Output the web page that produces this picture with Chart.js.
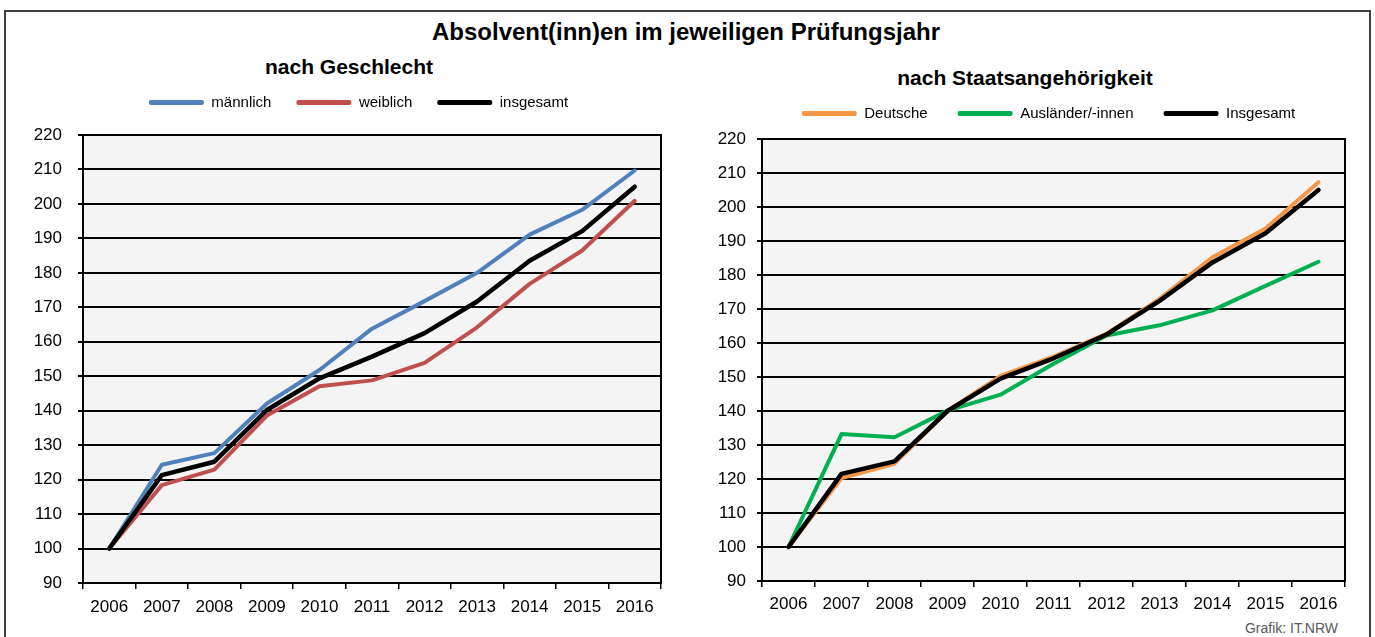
<!DOCTYPE html>
<html lang="de">
<head>
<meta charset="utf-8">
<title>Absolvent(inn)en im jeweiligen Prüfungsjahr</title>
<script src="https://cdn.jsdelivr.net/npm/chart.js@4.4.1/dist/chart.umd.min.js"></script>
<style>
    body {
        margin: 0;
        width: 1375px;
        height: 637px;
        position: relative;
        overflow: hidden;
        background: #fff;
        font-family: "Liberation Sans", Arial, sans-serif;
        color: #000;
    }
    .rahmen {
        position: absolute;
        left: 4px;
        top: 10px;
        width: 1363px;
        height: 640px;
        border: 2px solid #404040;
    }
    .txt {
        position: absolute;
        white-space: nowrap;
        transform: translate(-50%, -50%);
    }
    .box {
        position: absolute;
    }
</style>
</head>
<body>
<div class="rahmen"></div>

<div class="txt" style="left:686px; top:32px; font-size:24px; font-weight:bold;">Absolvent(inn)en im jeweiligen Prüfungsjahr</div>
<div class="txt" style="left:349px; top:67px; font-size:21px; font-weight:bold;">nach Geschlecht</div>
<div class="txt" style="left:1025px; top:78px; font-size:21px; font-weight:bold;">nach Staatsangehörigkeit</div>
<div style="position:absolute; right:37px; top:620px; font-size:14px; color:#595959;">Grafik: IT.NRW</div>

<div class="box" style="left:0px; top:70px; width:680px; height:560px;">
    <canvas id="chart-geschlecht"></canvas>
</div>
<div class="box" style="left:690px; top:76px; width:680px; height:554px;">
    <canvas id="chart-staat"></canvas>
</div>

<script>
// Prüfungsjahre (x-Achse)
const jahre = ['2006', '2007', '2008', '2009', '2010', '2011', '2012', '2013', '2014', '2015', '2016'];

// Index 2006 = 100, nach Geschlecht
const maennlich = [100, 124.3, 127.7, 142.1, 151.8, 163.8, 171.8, 180, 191.1, 198.3, 209.7];
const weiblich  = [100, 118.4, 122.9, 138.6, 147.1, 148.8, 153.9, 164.2, 176.8, 186.5, 200.9];
const insgesamt = [100, 121.3, 125.2, 140.2, 149.4, 155.7, 162.5, 171.7, 183.5, 192.1, 205];

// Index 2006 = 100, nach Staatsangehörigkeit
const deutsche   = [100, 120.3, 124.5, 140, 150.3, 156, 162.7, 173, 185.2, 193.7, 207.3];
const auslaender = [100, 133.2, 132.3, 140.1, 144.8, 153.9, 162.2, 165.2, 169.6, 176.8, 183.9];
const insgesamtStaat = [100, 121.5, 125.2, 140, 149.5, 155.5, 162.5, 172.4, 183.7, 192.3, 205];

// y-Achse
const yMin = 90;
const yMax = 220;
const yStep = 10;

const schrift = '"Liberation Sans", Arial, sans-serif';

// Grauer Hintergrund und schwarzer Rahmen um die Zeichenfläche
const plotRahmen = {
    id: 'plotRahmen',
    afterLayout(chart, args, opts) {
        // Legende seitlich verschieben (wie im Original)
        const shift = chart.options.legendShift || 0;
        chart.legend.left += shift;
        chart.legend.right += shift;
    },
    beforeDraw(chart) {
        const {ctx, chartArea: a} = chart;
        ctx.save();
        ctx.fillStyle = '#f4f4f4';
        ctx.fillRect(a.left, a.top, a.width, a.height);
        ctx.restore();
    },
    beforeDatasetsDraw(chart) {
        const {ctx, chartArea: a} = chart;
        ctx.save();
        ctx.strokeStyle = '#000';
        ctx.lineWidth = 2;
        ctx.strokeRect(a.left, a.top, a.width, a.height);
        ctx.restore();
    }
};

function linie(label, werte, farbe, breite, reihenfolge) {
    return {
        label: label,
        data: werte,
        borderColor: farbe,
        backgroundColor: farbe,
        borderWidth: breite,
        pointRadius: 0,
        tension: 0,
        borderJoinStyle: 'round',
        borderCapStyle: 'round',
        order: reihenfolge
    };
}

// Zeichnet ein Liniendiagramm; m = Maße (Abstände in px)
function zeichneDiagramm(id, datasets, m) {
    const canvas = document.getElementById(id);

    new Chart(canvas, {
        type: 'line',
        data: {
            labels: jahre,
            datasets: datasets
        },
        options: {
            responsive: true,
            maintainAspectRatio: false,
            animation: false,
            legendShift: m.legShift,
            layout: {
                padding: {left: 0, right: m.padRight, top: 0, bottom: 0}
            },
            scales: {
                x: {
                    offset: true,
                    grid: {
                        offset: true,
                        drawOnChartArea: false,
                        drawTicks: true,
                        tickLength: 6,
                        color: '#000',
                        lineWidth: 1.5
                    },
                    border: {display: true, color: '#000', width: 2},
                    ticks: {
                        color: '#000',
                        font: {family: schrift, size: 17},
                        padding: m.xPad,
                        autoSkip: false,
                        maxRotation: 0
                    },
                    afterFit(scale) { scale.height = m.xHeight; }
                },
                y: {
                    min: yMin,
                    max: yMax,
                    grid: {
                        color: '#000',
                        lineWidth: 2,
                        tickLength: 5
                    },
                    border: {display: true, color: '#000', width: 2},
                    ticks: {
                        stepSize: yStep,
                        color: '#000',
                        font: {family: schrift, size: 17},
                        padding: m.yPad
                    },
                    afterFit(scale) { scale.width = m.yWidth; }
                }
            },
            plugins: {
                // Legende ganz oben
                legend: {
                    position: 'top',
                    weight: 2500,
                    labels: {
                        boxWidth: 55,
                        boxHeight: 5,
                        padding: m.legPad,
                        color: '#000',
                        font: {family: schrift, size: 15},
                        sort: (a, b) => a.datasetIndex - b.datasetIndex,
                        generateLabels(chart) {
                            return Chart.defaults.plugins.legend.labels.generateLabels(chart).map(l => {
                                l.lineWidth = 0;
                                l.fillStyle = l.strokeStyle;
                                l.borderRadius = 2;
                                return l;
                            });
                        }
                    }
                },
                // leerer Titel als Abstand zwischen Legende und Diagramm
                title: {
                    display: true,
                    text: ' ',
                    font: {size: 1, lineHeight: 1},
                    padding: {top: m.spacer - 1, bottom: 0}
                },
                tooltip: {enabled: false}
            }
        },
        plugins: [plotRahmen]
    });
}

zeichneDiagramm('chart-geschlecht', [
    linie('männlich', maennlich, '#4f81bd', 4, 2),
    linie('weiblich', weiblich, '#c0504d', 4, 1),
    linie('insgesamt', insgesamt, '#000000', 4.5, 0)
], {padRight: 19, yWidth: 83, yPad: 16, xHeight: 47, xPad: 8, legPad: 25, spacer: 15, legShift: 28});

zeichneDiagramm('chart-staat', [
    linie('Deutsche', deutsche, '#f79646', 4, 1),
    linie('Ausländer/-innen', auslaender, '#00b050', 4, 2),
    linie('Insgesamt', insgesamtStaat, '#000000', 4.5, 0)
], {padRight: 25, yWidth: 72, yPad: 11, xHeight: 49, xPad: 7, legPad: 30, spacer: 8, legShift: 31});
</script>
</body>
</html>
